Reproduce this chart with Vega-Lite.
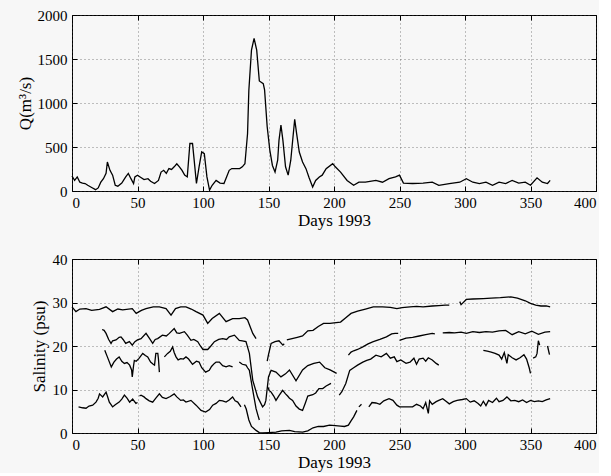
{
"$schema": "https://vega.github.io/schema/vega-lite/v6.json",
"background": "#f7f7f7",
"padding": {"left": 15, "top": 7, "right": 2, "bottom": 2},
"spacing": 22,
"config": {
 "view": {"stroke": "black", "strokeWidth": 1},
 "axis": {"labelFont": "Liberation Serif", "labelFontSize": 15, "labelColor": "black", "titleFont": "Liberation Serif", "titleFontSize": 17, "titleFontWeight": "normal", "titleColor": "black", "domain": false, "tickColor": "black", "ticks": false, "grid": true, "gridColor": "#444", "gridDash": [1, 3], "gridOpacity": 0.8, "gridWidth": 0.8, "format": "d"}
},
"datasets": {
 "q": [
 {"d":0,"q":170},{"d":2,"q":120},{"d":4,"q":160},{"d":6,"q":100},{"d":8,"q":90},{"d":10,"q":85},{"d":12,"q":65},{"d":15,"q":40},{"d":18,"q":15},{"d":20,"q":35},{"d":22,"q":100},{"d":24,"q":140},{"d":26,"q":200},{"d":27,"q":330},{"d":29,"q":235},{"d":31,"q":180},{"d":33,"q":65},{"d":35,"q":55},{"d":38,"q":90},{"d":41,"q":160},{"d":43,"q":200},{"d":45,"q":140},{"d":47,"q":85},{"d":48,"q":160},{"d":50,"q":180},{"d":52,"q":160},{"d":55,"q":130},{"d":58,"q":140},{"d":60,"q":110},{"d":63,"q":85},{"d":66,"q":120},{"d":68,"q":215},{"d":70,"q":235},{"d":72,"q":200},{"d":74,"q":255},{"d":76,"q":245},{"d":78,"q":275},{"d":80,"q":310},{"d":82,"q":275},{"d":84,"q":235},{"d":86,"q":180},{"d":88,"q":160},{"d":90,"q":540},{"d":92,"q":540},{"d":93,"q":390},{"d":95,"q":85},{"d":97,"q":275},{"d":99,"q":445},{"d":101,"q":425},{"d":103,"q":160},{"d":105,"q":10},{"d":107,"q":65},{"d":110,"q":120},{"d":113,"q":90},{"d":116,"q":85},{"d":118,"q":160},{"d":120,"q":235},{"d":122,"q":255},{"d":125,"q":255},{"d":128,"q":255},{"d":130,"q":275},{"d":132,"q":310},{"d":134,"q":650},{"d":135,"q":1145},{"d":137,"q":1600},{"d":139,"q":1735},{"d":141,"q":1600},{"d":143,"q":1250},{"d":146,"q":1220},{"d":147,"q":1150},{"d":149,"q":730},{"d":151,"q":465},{"d":153,"q":290},{"d":155,"q":215},{"d":157,"q":350},{"d":158,"q":575},{"d":159.5,"q":750},{"d":161,"q":575},{"d":163,"q":275},{"d":165,"q":180},{"d":167,"q":350},{"d":170,"q":815},{"d":171.5,"q":650},{"d":173.5,"q":443},{"d":176,"q":330},{"d":178.6,"q":254},{"d":181,"q":150},{"d":183.7,"q":45},{"d":186,"q":120},{"d":188.8,"q":160},{"d":191,"q":180},{"d":194,"q":254},{"d":199,"q":311},{"d":201,"q":275},{"d":205,"q":215},{"d":210,"q":120},{"d":215,"q":65},{"d":219,"q":100},{"d":224,"q":100},{"d":232,"q":120},{"d":237,"q":100},{"d":242,"q":140},{"d":247,"q":160},{"d":250,"q":180},{"d":253,"q":90},{"d":260,"q":85},{"d":268,"q":90},{"d":275,"q":100},{"d":280,"q":65},{"d":288,"q":85},{"d":296,"q":100},{"d":301,"q":140},{"d":306,"q":100},{"d":311,"q":85},{"d":316,"q":100},{"d":321,"q":65},{"d":326,"q":100},{"d":331,"q":85},{"d":336,"q":120},{"d":341,"q":90},{"d":346,"q":100},{"d":350,"q":65},{"d":355,"q":150},{"d":359,"q":100},{"d":363,"q":85},{"d":365,"q":120}
 ],
 "s": [
 {"g":"A","d":0,"s":29},{"g":"A","d":3,"s":27.9},{"g":"A","d":6,"s":28.5},{"g":"A","d":10.7,"s":28.6},{"g":"A","d":15,"s":28.2},{"g":"A","d":21,"s":28.4},{"g":"A","d":26,"s":29},{"g":"A","d":31,"s":27.9},{"g":"A","d":35,"s":28.5},{"g":"A","d":38.7,"s":28.3},{"g":"A","d":46,"s":28.6},{"g":"A","d":49,"s":27.5},{"g":"A","d":53,"s":28.2},{"g":"A","d":56.5,"s":28.6},{"g":"A","d":62,"s":29},{"g":"A","d":66.7,"s":29},{"g":"A","d":71.8,"s":28.6},{"g":"A","d":75.6,"s":27.1},{"g":"A","d":79,"s":28.6},{"g":"A","d":83,"s":29},{"g":"A","d":87,"s":29},{"g":"A","d":91,"s":28.5},{"g":"A","d":94.7,"s":27.9},{"g":"A","d":100,"s":27.1},{"g":"A","d":103.6,"s":25.2},{"g":"A","d":107,"s":26.3},{"g":"A","d":112.5,"s":27.5},{"g":"A","d":117.6,"s":25.6},{"g":"A","d":122.6,"s":26.3},{"g":"A","d":127.7,"s":26.3},{"g":"A","d":132,"s":26.5},{"g":"A","d":134,"s":26},{"g":"A","d":138,"s":22.9},{"g":"A","d":140.5,"s":21.7},
 {"g":"B1","d":149,"s":16.5},{"g":"B1","d":150,"s":18},{"g":"B1","d":152,"s":20.6},{"g":"B1","d":155,"s":21},{"g":"B1","d":158,"s":21.2},{"g":"B1","d":161,"s":20.2},{"g":"B1","d":162,"s":20.5},
 {"g":"B2","d":164,"s":21.4},{"g":"B2","d":168,"s":21.7},{"g":"B2","d":172,"s":22},{"g":"B2","d":176,"s":22.3},{"g":"B2","d":180,"s":23.5},{"g":"B2","d":184,"s":23.6},{"g":"B2","d":188,"s":24.5},{"g":"B2","d":192,"s":25.2},{"g":"B2","d":197,"s":25.2},{"g":"B2","d":200,"s":25.3},{"g":"B2","d":205,"s":25.5},{"g":"B2","d":209,"s":26.5},{"g":"B2","d":213,"s":27.5},{"g":"B2","d":218,"s":28},{"g":"B2","d":224,"s":28.5},{"g":"B2","d":230,"s":29},{"g":"B2","d":237,"s":29},{"g":"B2","d":243,"s":28.9},{"g":"B2","d":248,"s":28.6},{"g":"B2","d":252,"s":28.8},{"g":"B2","d":258,"s":29},{"g":"B2","d":263,"s":29.1},{"g":"B2","d":268,"s":29},{"g":"B2","d":275,"s":29.2},{"g":"B2","d":280,"s":29.3},{"g":"B2","d":285,"s":29.4},{"g":"B2","d":288,"s":29.4},
 {"g":"C","d":296,"s":30.2},{"g":"C","d":297,"s":29.5},{"g":"C","d":298,"s":29.8},{"g":"C","d":301,"s":30.7},{"g":"C","d":306,"s":30.8},{"g":"C","d":314,"s":30.9},{"g":"C","d":320,"s":31},{"g":"C","d":327,"s":31.1},{"g":"C","d":335,"s":31.3},{"g":"C","d":340,"s":31},{"g":"C","d":346,"s":30.4},{"g":"C","d":350,"s":29.8},{"g":"C","d":354,"s":29.4},{"g":"C","d":358,"s":29.2},{"g":"C","d":362,"s":29.2},{"g":"C","d":365,"s":29},
 {"g":"D","d":23,"s":23.8},{"g":"D","d":24.5,"s":23.6},{"g":"D","d":26,"s":22.9},{"g":"D","d":28,"s":21.5},{"g":"D","d":29.8,"s":20.6},{"g":"D","d":31,"s":21.2},{"g":"D","d":33.6,"s":21.4},{"g":"D","d":36,"s":22},{"g":"D","d":37.4,"s":22.1},{"g":"D","d":39,"s":21.5},{"g":"D","d":41,"s":20.6},{"g":"D","d":43.8,"s":21},{"g":"D","d":46,"s":20.2},{"g":"D","d":48,"s":21},{"g":"D","d":50,"s":21.4},{"g":"D","d":52.7,"s":21.7},{"g":"D","d":56.5,"s":22.9},{"g":"D","d":59,"s":21.8},{"g":"D","d":61.6,"s":20.6},{"g":"D","d":63.5,"s":21.5},{"g":"D","d":65.4,"s":21.7},{"g":"D","d":69,"s":22.5},{"g":"D","d":72,"s":22.3},{"g":"D","d":74.3,"s":22.9},{"g":"D","d":78,"s":24},{"g":"D","d":80,"s":23},{"g":"D","d":82,"s":22.9},{"g":"D","d":85.8,"s":23.3},{"g":"D","d":88,"s":22.5},{"g":"D","d":90.8,"s":21.3},{"g":"D","d":93,"s":21.5},{"g":"D","d":96,"s":21},{"g":"D","d":98,"s":20},{"g":"D","d":100,"s":19.2},{"g":"D","d":103.6,"s":19.2},{"g":"D","d":106,"s":20},{"g":"D","d":108.7,"s":21},{"g":"D","d":112,"s":21.5},{"g":"D","d":115,"s":21.7},{"g":"D","d":118,"s":21.5},{"g":"D","d":120,"s":22.1},{"g":"D","d":124,"s":22.5},{"g":"D","d":127.7,"s":21.3},{"g":"D","d":130,"s":21.2},{"g":"D","d":132.8,"s":21},{"g":"D","d":135.4,"s":18.3},{"g":"D","d":138,"s":12.1},{"g":"D","d":141.7,"s":8.3},{"g":"D","d":145.5,"s":6},{"g":"D","d":147,"s":6.5},{"g":"D","d":148,"s":7.5},{"g":"D","d":150,"s":12.9},{"g":"D","d":152,"s":14.4},{"g":"D","d":155.7,"s":14},{"g":"D","d":159.5,"s":12.9},{"g":"D","d":163,"s":13.6},{"g":"D","d":166,"s":14.5},{"g":"D","d":171,"s":12},{"g":"D","d":176,"s":14.5},{"g":"D","d":180,"s":15.5},{"g":"D","d":184.6,"s":16},{"g":"D","d":189,"s":16.3},{"g":"D","d":193,"s":15},{"g":"D","d":197,"s":14.5},{"g":"D","d":202,"s":13.7},
 {"g":"E","d":211,"s":17.9},{"g":"E","d":213,"s":18.6},{"g":"E","d":215,"s":18.9},{"g":"E","d":218,"s":19.2},{"g":"E","d":222,"s":19.8},{"g":"E","d":226,"s":20.5},{"g":"E","d":230,"s":21},{"g":"E","d":235,"s":21.5},{"g":"E","d":240,"s":22.1},{"g":"E","d":244,"s":22.8},{"g":"E","d":246.6,"s":22.9},{"g":"E","d":249,"s":22.9},
 {"g":"E2","d":250,"s":21.3},{"g":"E2","d":255,"s":21.8},{"g":"E2","d":260,"s":22},{"g":"E2","d":265,"s":22.3},{"g":"E2","d":270,"s":22.6},{"g":"E2","d":275,"s":22.9},{"g":"E2","d":277,"s":22.8},
 {"g":"F","d":283,"s":23},{"g":"F","d":288,"s":23.1},{"g":"F","d":292,"s":23},{"g":"F","d":297,"s":23.2},{"g":"F","d":301,"s":22.9},{"g":"F","d":306,"s":23.3},{"g":"F","d":311,"s":23.1},{"g":"F","d":316,"s":23.3},{"g":"F","d":321,"s":23.2},{"g":"F","d":326,"s":23.5},{"g":"F","d":331,"s":23.6},{"g":"F","d":336,"s":22.6},{"g":"F","d":341,"s":23.3},{"g":"F","d":346,"s":22.8},{"g":"F","d":351,"s":23.4},{"g":"F","d":356,"s":22.7},{"g":"F","d":361,"s":23.2},{"g":"F","d":365,"s":23.3},
 {"g":"G","d":25,"s":19},{"g":"G","d":27,"s":17.5},{"g":"G","d":30,"s":15.2},{"g":"G","d":32,"s":16.3},{"g":"G","d":34,"s":17},{"g":"G","d":36,"s":17.5},{"g":"G","d":38,"s":16.5},{"g":"G","d":40,"s":16},{"g":"G","d":42,"s":16.2},{"g":"G","d":44,"s":15.6},{"g":"G","d":45.5,"s":14.5},{"g":"G","d":46,"s":12.9},{"g":"G","d":47,"s":15.5},{"g":"G","d":47.6,"s":16.7},{"g":"G","d":49,"s":16.5},{"g":"G","d":51,"s":17.1},{"g":"G","d":54,"s":18.3},{"g":"G","d":56,"s":17.8},{"g":"G","d":57.8,"s":17.5},{"g":"G","d":60,"s":16.3},{"g":"G","d":62,"s":15.8},{"g":"G","d":63,"s":15.6},{"g":"G","d":64,"s":18.3},{"g":"G","d":65.5,"s":18.3},{"g":"G","d":66,"s":17},{"g":"G","d":66.7,"s":14},
 {"g":"H","d":70.5,"s":17.5},{"g":"H","d":73,"s":18.3},{"g":"H","d":75,"s":18.8},{"g":"H","d":76.8,"s":19.8},{"g":"H","d":78,"s":18.5},{"g":"H","d":79.4,"s":17.5},{"g":"H","d":81,"s":16.8},{"g":"H","d":83,"s":17.1},{"g":"H","d":85,"s":17},{"g":"H","d":87,"s":17.5},{"g":"H","d":89,"s":17},{"g":"H","d":92,"s":15.8},{"g":"H","d":95,"s":16.5},{"g":"H","d":97,"s":16.3},{"g":"H","d":99,"s":15},{"g":"H","d":102,"s":14},{"g":"H","d":104.8,"s":14.4},{"g":"H","d":106.5,"s":15.3},{"g":"H","d":108.7,"s":16},{"g":"H","d":110,"s":16.3},{"g":"H","d":112.5,"s":16.3},{"g":"H","d":115,"s":15.5},{"g":"H","d":117.6,"s":15.2},{"g":"H","d":120,"s":15.5},{"g":"H","d":122.6,"s":15.2},
 {"g":"I","d":127.7,"s":16.3},{"g":"I","d":130,"s":15.8},{"g":"I","d":132.8,"s":15.6},{"g":"I","d":134,"s":15},{"g":"I","d":135.4,"s":14.4},{"g":"I","d":138,"s":9.8},{"g":"I","d":140.5,"s":5.6},{"g":"I","d":142,"s":4},{"g":"I","d":143,"s":3},
 {"g":"J","d":149.4,"s":10.6},{"g":"J","d":150.5,"s":9.8},{"g":"J","d":152,"s":9.4},{"g":"J","d":154,"s":8.5},{"g":"J","d":155.7,"s":7.5},{"g":"J","d":158,"s":8.6},{"g":"J","d":160.8,"s":9.8},{"g":"J","d":163,"s":9},{"g":"J","d":164.6,"s":8.5},{"g":"J","d":166,"s":8},{"g":"J","d":168.4,"s":7.5},{"g":"J","d":171,"s":6.2},{"g":"J","d":173.5,"s":5.5},{"g":"J","d":176,"s":5.2},{"g":"J","d":178,"s":6.8},{"g":"J","d":180,"s":8.5},{"g":"J","d":183.8,"s":8.8},{"g":"J","d":186,"s":9.2},{"g":"J","d":188.5,"s":10.2},{"g":"J","d":191.4,"s":10.2},{"g":"J","d":194,"s":10.8},{"g":"J","d":197.7,"s":11.4},
 {"g":"K","d":204,"s":8.7},{"g":"K","d":206,"s":9.5},{"g":"K","d":209,"s":11.4},{"g":"K","d":212,"s":14.4},{"g":"K","d":215,"s":15},{"g":"K","d":218,"s":15.6},{"g":"K","d":222,"s":16.3},{"g":"K","d":225,"s":16.7},{"g":"K","d":228,"s":17},{"g":"K","d":232,"s":17.9},{"g":"K","d":236,"s":17.5},{"g":"K","d":240,"s":18.3},{"g":"K","d":243,"s":17.2},{"g":"K","d":246,"s":17.5},{"g":"K","d":248,"s":16.4},{"g":"K","d":251,"s":16.8},{"g":"K","d":255,"s":16},{"g":"K","d":258,"s":16.3},{"g":"K","d":261,"s":17.2},{"g":"K","d":263,"s":15.8},{"g":"K","d":265,"s":17},{"g":"K","d":268,"s":17.2},{"g":"K","d":270,"s":16.5},{"g":"K","d":272,"s":17.3},{"g":"K","d":275,"s":16.8},{"g":"K","d":278,"s":16},{"g":"K","d":280,"s":15.6},
 {"g":"L","d":314,"s":19},{"g":"L","d":317,"s":18.8},{"g":"L","d":320,"s":18.6},{"g":"L","d":323,"s":18.3},{"g":"L","d":326,"s":17.9},{"g":"L","d":328,"s":17},{"g":"L","d":330,"s":18.5},{"g":"L","d":332,"s":16},{"g":"L","d":333,"s":18},{"g":"L","d":336,"s":17.3},{"g":"L","d":339,"s":16.8},{"g":"L","d":342,"s":17.3},{"g":"L","d":345,"s":18},{"g":"L","d":347,"s":17},{"g":"L","d":349,"s":15},{"g":"L","d":350,"s":13.7},
 {"g":"M","d":352,"s":17.2},{"g":"M","d":354,"s":17.5},{"g":"M","d":355,"s":18.3},{"g":"M","d":356,"s":21.2},{"g":"M","d":357,"s":20.2},
 {"g":"N","d":363,"s":20},{"g":"N","d":364.5,"s":18},
 {"g":"P","d":5,"s":6},{"g":"P","d":8,"s":5.8},{"g":"P","d":10.7,"s":5.7},{"g":"P","d":13,"s":6.2},{"g":"P","d":15.8,"s":6.4},{"g":"P","d":18.3,"s":7.1},{"g":"P","d":20,"s":8},{"g":"P","d":21,"s":9},{"g":"P","d":23.4,"s":8.3},{"g":"P","d":26,"s":9.4},{"g":"P","d":27,"s":8.5},{"g":"P","d":28.5,"s":7.1},{"g":"P","d":31,"s":6},{"g":"P","d":33,"s":6.5},{"g":"P","d":36,"s":7.1},{"g":"P","d":38,"s":7.8},{"g":"P","d":40,"s":8.7},{"g":"P","d":42,"s":8},{"g":"P","d":44,"s":7.1},{"g":"P","d":46.3,"s":7.8},{"g":"P","d":48.8,"s":6.8},{"g":"P","d":50,"s":7},
 {"g":"Q","d":51.5,"s":8.5},{"g":"Q","d":52.7,"s":8.7},{"g":"Q","d":55,"s":8.3},{"g":"Q","d":56.5,"s":7.9},{"g":"Q","d":59,"s":7.4},{"g":"Q","d":61.6,"s":7.1},{"g":"Q","d":64,"s":8},{"g":"Q","d":66.7,"s":9},{"g":"Q","d":69,"s":8.2},{"g":"Q","d":71.8,"s":7.9},{"g":"Q","d":75,"s":8.4},{"g":"Q","d":78,"s":9},{"g":"Q","d":80,"s":8.3},{"g":"Q","d":83,"s":7.5},{"g":"Q","d":85,"s":7.6},{"g":"Q","d":87,"s":7.1},{"g":"Q","d":90.8,"s":7.5},{"g":"Q","d":94.7,"s":6.4},{"g":"Q","d":98.5,"s":5.2},{"g":"Q","d":102,"s":4.8},{"g":"Q","d":105,"s":5.4},{"g":"Q","d":107.4,"s":6.4},{"g":"Q","d":110,"s":6.8},{"g":"Q","d":112.5,"s":7.5},{"g":"Q","d":115,"s":7.4},{"g":"Q","d":117.6,"s":7.1},{"g":"Q","d":120,"s":7.6},{"g":"Q","d":122.6,"s":8.3},{"g":"Q","d":124.5,"s":7.4},{"g":"Q","d":126.5,"s":7.1},{"g":"Q","d":129,"s":6},
 {"g":"R","d":131.6,"s":6.5},{"g":"R","d":133,"s":5.5},{"g":"R","d":135,"s":3},{"g":"R","d":137,"s":1.5},{"g":"R","d":140.5,"s":0.6},{"g":"R","d":143,"s":0.1},{"g":"R","d":145.5,"s":0},{"g":"R","d":150,"s":0.1},{"g":"R","d":155.7,"s":0.2},{"g":"R","d":160,"s":0.5},{"g":"R","d":166,"s":0.6},{"g":"R","d":170,"s":0.3},{"g":"R","d":176,"s":0.2},{"g":"R","d":180,"s":0.5},{"g":"R","d":184,"s":1.2},{"g":"R","d":188,"s":1.5},{"g":"R","d":192,"s":1.5},{"g":"R","d":196.6,"s":1.8},{"g":"R","d":201,"s":1.7},{"g":"R","d":205,"s":1.6},{"g":"R","d":208,"s":1.5},{"g":"R","d":211,"s":1.8},{"g":"R","d":213,"s":2.8},{"g":"R","d":215,"s":3.7},{"g":"R","d":217.5,"s":5.2},
 {"g":"S","d":219,"s":6},{"g":"S","d":221,"s":6.6},
 {"g":"T","d":226.6,"s":6},{"g":"T","d":229,"s":7},{"g":"T","d":232,"s":6.9},{"g":"T","d":235,"s":6.6},{"g":"T","d":238,"s":7.4},{"g":"T","d":242,"s":7.9},{"g":"T","d":245,"s":7.5},{"g":"T","d":248,"s":6.4},{"g":"T","d":250,"s":6},{"g":"T","d":255,"s":6},{"g":"T","d":260,"s":6},{"g":"T","d":263,"s":6.6},{"g":"T","d":266,"s":6.2},{"g":"T","d":268,"s":5.6},{"g":"T","d":270,"s":7},{"g":"T","d":272,"s":4.5},{"g":"T","d":273,"s":7.4},{"g":"T","d":275,"s":6.6},{"g":"T","d":278,"s":7.2},{"g":"T","d":280,"s":7.5},{"g":"T","d":283,"s":7.9},{"g":"T","d":286,"s":7.2},{"g":"T","d":288,"s":6.7},{"g":"T","d":291,"s":7.2},{"g":"T","d":294,"s":7.5},{"g":"T","d":298,"s":7.7},{"g":"T","d":301,"s":7.9},{"g":"T","d":304,"s":7.1},{"g":"T","d":307,"s":7.4},{"g":"T","d":310,"s":6.8},{"g":"T","d":312,"s":6.2},{"g":"T","d":314,"s":7.3},{"g":"T","d":316,"s":6.3},{"g":"T","d":318,"s":7.5},{"g":"T","d":321,"s":7},{"g":"T","d":324,"s":8},{"g":"T","d":326,"s":7.2},{"g":"T","d":329,"s":7.5},{"g":"T","d":332,"s":8.3},{"g":"T","d":335,"s":7.4},{"g":"T","d":338,"s":7.5},{"g":"T","d":341,"s":7.2},{"g":"T","d":344,"s":7.6},{"g":"T","d":347,"s":7},{"g":"T","d":350,"s":7.5},{"g":"T","d":353,"s":7.2},{"g":"T","d":356,"s":7.4},{"g":"T","d":359,"s":7.2},{"g":"T","d":362,"s":7.6},{"g":"T","d":365,"s":7.9}
 ]
},
"vconcat": [
 {
  "width": 524, "height": 176,
  "data": {"name": "q"},
  "layer": [
   {"mark": {"type": "line", "color": "black", "strokeWidth": 1.3},
    "encoding": {
     "x": {"field": "d", "type": "quantitative", "scale": {"domain": [0, 400], "nice": false}, "axis": {"values": [0,50,100,150,200,250,300,350,400], "title": "Days 1993", "labelPadding": 4, "titlePadding": 2}},
     "y": {"field": "q", "type": "quantitative", "scale": {"domain": [0, 2000], "nice": false}, "axis": {"values": [0,500,1000,1500,2000], "title": "Q(m³/s)", "labelPadding": 5, "titlePadding": 3}}
    }},
   {"mark": {"type": "line", "strokeOpacity": 0},
    "encoding": {
     "x": {"field": "d", "type": "quantitative", "axis": {"orient": "top", "offset": -5, "ticks": true, "tickSize": 5, "values": [0,50,100,150,200,250,300,350,400], "labels": false, "grid": false, "title": null}},
     "y": {"field": "q", "type": "quantitative", "axis": {"orient": "right", "offset": -5, "ticks": true, "tickSize": 5, "values": [0,500,1000,1500,2000], "labels": false, "grid": false, "title": null}}
    }},
   {"mark": {"type": "line", "strokeOpacity": 0},
    "encoding": {
     "x": {"field": "d", "type": "quantitative", "axis": {"orient": "bottom", "offset": -5, "ticks": true, "tickSize": 5, "values": [0,50,100,150,200,250,300,350,400], "labels": false, "grid": false, "title": null}},
     "y": {"field": "q", "type": "quantitative", "axis": {"orient": "left", "offset": -5, "ticks": true, "tickSize": 5, "values": [0,500,1000,1500,2000], "labels": false, "grid": false, "title": null}}
    }}
  ],
  "resolve": {"axis": {"x": "independent", "y": "independent"}}
 },
 {
  "width": 524, "height": 174,
  "data": {"name": "s"},
  "layer": [
   {"mark": {"type": "line", "color": "black", "strokeWidth": 1.3},
    "encoding": {
     "x": {"field": "d", "type": "quantitative", "scale": {"domain": [0, 400], "nice": false}, "axis": {"values": [0,50,100,150,200,250,300,350,400], "title": "Days 1993", "labelPadding": 4, "titlePadding": 2}},
     "y": {"field": "s", "type": "quantitative", "scale": {"domain": [0, 40], "nice": false}, "axis": {"values": [0,10,20,30,40], "title": "Salinity (psu)", "labelPadding": 5, "titlePadding": 4}},
     "detail": {"field": "g", "type": "nominal"}
    }},
   {"mark": {"type": "line", "strokeOpacity": 0},
    "encoding": {
     "x": {"field": "d", "type": "quantitative", "axis": {"orient": "top", "offset": -5, "ticks": true, "tickSize": 5, "values": [0,50,100,150,200,250,300,350,400], "labels": false, "grid": false, "title": null}},
     "y": {"field": "s", "type": "quantitative", "axis": {"orient": "right", "offset": -5, "ticks": true, "tickSize": 5, "values": [0,10,20,30,40], "labels": false, "grid": false, "title": null}},
     "detail": {"field": "g", "type": "nominal"}
    }},
   {"mark": {"type": "line", "strokeOpacity": 0},
    "encoding": {
     "x": {"field": "d", "type": "quantitative", "axis": {"orient": "bottom", "offset": -5, "ticks": true, "tickSize": 5, "values": [0,50,100,150,200,250,300,350,400], "labels": false, "grid": false, "title": null}},
     "y": {"field": "s", "type": "quantitative", "axis": {"orient": "left", "offset": -5, "ticks": true, "tickSize": 5, "values": [0,10,20,30,40], "labels": false, "grid": false, "title": null}},
     "detail": {"field": "g", "type": "nominal"}
    }}
  ],
  "resolve": {"axis": {"x": "independent", "y": "independent"}}
 }
]
}
